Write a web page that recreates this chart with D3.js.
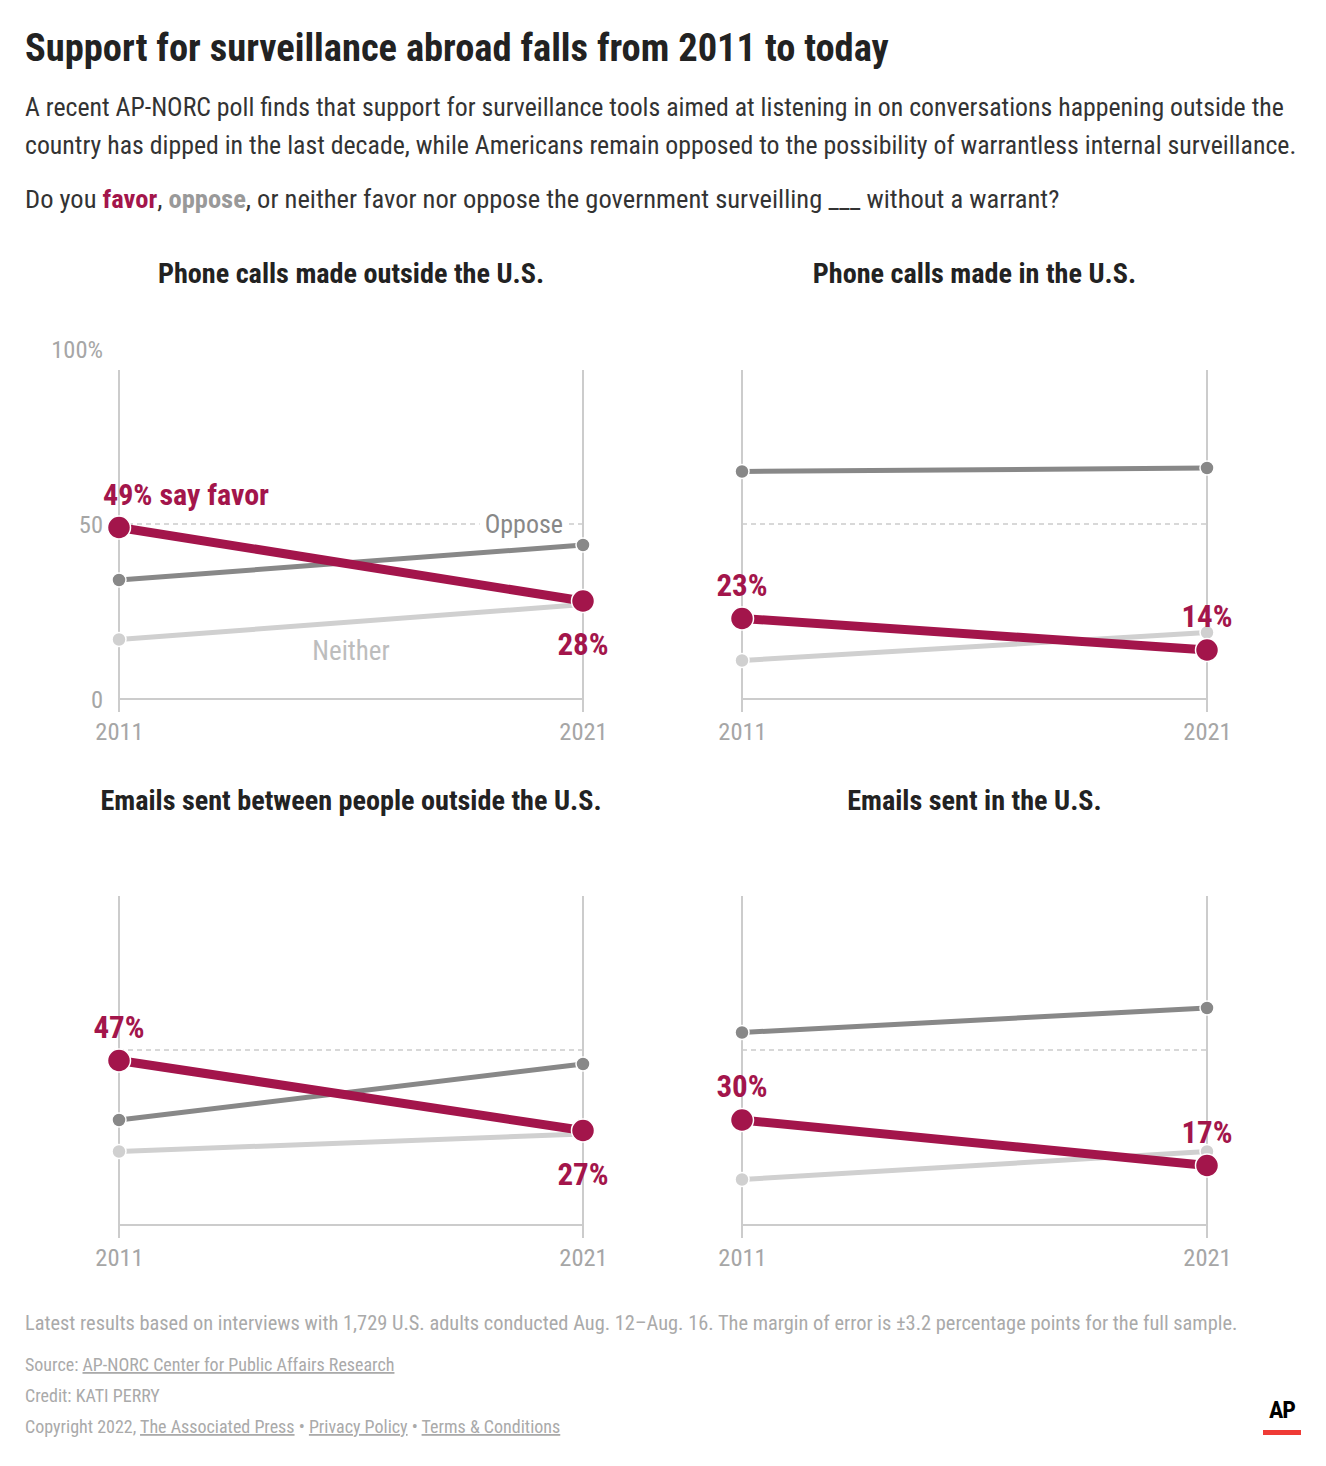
<!DOCTYPE html>
<html>
<head>
<meta charset="utf-8">
<script src="https://cdn.jsdelivr.net/npm/d3@7"></script>
<style>
  html, body { margin: 0; padding: 0; background: #fff; }
  svg { display: block; }
  text { font-family: "Liberation Sans Narrow", "Roboto Condensed", "DejaVu Sans Condensed", sans-serif; }
</style>
</head>
<body>
<svg id="chart" width="1326" height="1466"></svg>
<script>
// ---------- DATA ----------
const years = [2011, 2021];
const panelTitles = [
  "Phone calls made outside the U.S.",
  "Phone calls made in the U.S.",
  "Emails sent between people outside the U.S.",
  "Emails sent in the U.S."
];
const favor   = [[49, 28], [23, 14], [47, 27], [30, 17]];
const oppose  = [[34, 44], [65, 66], [30, 46], [55, 62]];
const neither = [[17, 27], [11, 19], [21, 26], [13, 21]];
const yTicks = [0, 50, 100];
const yTickLabels = ["0", "50", "100%"];
const favorLabelSide = [["above", "below"], ["above", "above"], ["above", "below"], ["above", "above"]];

const titleText = "Support for surveillance abroad falls from 2011 to today";
const subtitleLines = [
  "A recent AP-NORC poll finds that support for surveillance tools aimed at listening in on conversations happening outside the",
  "country has dipped in the last decade, while Americans remain opposed to the possibility of warrantless internal surveillance."
];
const noteText = "Latest results based on interviews with 1,729 U.S. adults conducted Aug. 12\u2013Aug. 16. The margin of error is \u00b13.2 percentage points for the full sample.";

// ---------- STYLE ----------
const C_FAVOR = "#a3154b", C_OPPOSE = "#888888", C_NEITHER = "#d0d0d0";
const C_AXIS = "#cccccc", C_LABEL = "#a6a6a6";

const svg = d3.select("#chart");

// Header
svg.append("text").attr("x", 25).attr("y", 61)
  .attr("font-size", 38.5).attr("font-weight", 700).attr("fill", "#222")
  .text(titleText);
subtitleLines.forEach((l, i) => {
  svg.append("text").attr("x", 25).attr("y", 116 + i * 38)
    .attr("font-size", 25.8).attr("fill", "#333").text(l);
});
const q = svg.append("text").attr("x", 25).attr("y", 208)
  .attr("font-size", 26.5).attr("fill", "#333");
q.append("tspan").text("Do you ");
q.append("tspan").attr("fill", C_FAVOR).attr("font-weight", 700).text("favor");
q.append("tspan").text(", ");
q.append("tspan").attr("fill", "#999").attr("font-weight", 700).text("oppose");
q.append("tspan").text(", or neither favor nor oppose the government surveilling ___ without a warrant?");

// Panels
const cols = [[119, 583], [742, 1207]];
const rows = [{ base: 699, top: 349, title: 283 }, { base: 1225, top: 875, title: 810 }];

panelTitles.forEach((title, p) => {
  const col = cols[p % 2], row = rows[Math.floor(p / 2)];
  const x = d3.scalePoint().domain(years).range(col);
  const y = d3.scaleLinear().domain([0, 100]).range([row.base, row.top]);
  const g = svg.append("g");

  g.append("text").attr("x", (col[0] + col[1]) / 2).attr("y", row.title)
    .attr("text-anchor", "middle").attr("font-size", 28.2).attr("font-weight", 700)
    .attr("fill", "#222").text(title);

  // vertical year gridlines
  years.forEach(yr => {
    g.append("line").attr("x1", x(yr)).attr("x2", x(yr))
      .attr("y1", y(94)).attr("y2", y(0) + 13)
      .attr("stroke", C_AXIS).attr("stroke-width", 2);
  });
  // baseline
  g.append("line").attr("x1", col[0]).attr("x2", col[1]).attr("y1", y(0)).attr("y2", y(0))
    .attr("stroke", C_AXIS).attr("stroke-width", 2);
  // 50 dashed
  g.append("line").attr("x1", col[0]).attr("x2", col[1]).attr("y1", y(50)).attr("y2", y(50))
    .attr("stroke", C_AXIS).attr("stroke-width", 1.5).attr("stroke-dasharray", "5,4");

  // x axis labels
  const xAxis = d3.axisBottom(x).tickSize(0).tickPadding(0).tickFormat(d3.format("d"));
  const xa = g.append("g").attr("transform", `translate(0,${y(0) + 41})`).call(xAxis);
  xa.select(".domain").remove();
  xa.selectAll("text").attr("font-size", 24.5).attr("fill", C_LABEL)
    .attr("dy", 0).attr("font-family", null);

  // y axis labels (first panel only)
  if (p === 0) {
    const yAxis = d3.axisLeft(y).tickValues(yTicks).tickSize(0).tickPadding(0)
      .tickFormat((d, i) => yTickLabels[i]);
    const ya = g.append("g").attr("transform", `translate(${col[0] - 16},0)`).call(yAxis);
    ya.select(".domain").remove();
    ya.selectAll("text").attr("font-size", 24.5).attr("fill", C_LABEL)
      .attr("dy", "0.35em").attr("font-family", null);
  }

  const line = d3.line().x((d, i) => x(years[i])).y(d => y(d));
  const series = [
    { vals: neither[p], color: C_NEITHER, w: 5, r: 7 },
    { vals: oppose[p], color: C_OPPOSE, w: 5, r: 7 },
    { vals: favor[p], color: C_FAVOR, w: 9, r: 11.5 }
  ];

  // Oppose / Neither labels on first panel
  if (p === 0) {
    const bg = g.append("rect").attr("fill", "#fff");
    const ot = g.append("text").attr("x", x(years[1]) - 20).attr("y", y(50) + 9)
      .attr("text-anchor", "end").attr("font-size", 26).attr("fill", C_OPPOSE).text("Oppose");
    const bb = ot.node().getBBox();
    bg.attr("x", bb.x - 5).attr("y", y(50) - 3).attr("width", bb.width + 10).attr("height", 6);
    g.append("text").attr("x", (col[0] + col[1]) / 2).attr("y", y(d3.mean(neither[p])) + 38)
      .attr("text-anchor", "middle").attr("font-size", 27).attr("fill", "#bdbdbd").text("Neither");
  }

  series.forEach(s => {
    g.append("path").datum(s.vals).attr("d", line).attr("fill", "none")
      .attr("stroke", s.color).attr("stroke-width", s.w);
    g.selectAll(null).data(s.vals).enter().append("circle")
      .attr("cx", (d, i) => x(years[i])).attr("cy", d => y(d)).attr("r", s.r)
      .attr("fill", s.color).attr("stroke", "#fff").attr("stroke-width", 1.5);
  });

  // favor value labels
  favor[p].forEach((v, i) => {
    const side = favorLabelSide[p][i];
    const first = p === 0 && i === 0;
    g.append("text")
      .attr("x", first ? x(years[i]) - 16 : x(years[i]))
      .attr("y", side === "above" ? y(v) - 23 : y(v) + 54)
      .attr("text-anchor", first ? "start" : "middle")
      .attr("font-size", first ? 30 : 31).attr("font-weight", 700).attr("fill", C_FAVOR)
      .text(first ? `${v}% say favor` : `${v}%`);
  });
});

// Footer
svg.append("text").attr("x", 25).attr("y", 1330).attr("font-size", 20.4).attr("fill", "#aaa").text(noteText);

function footerLine(yPos, parts) {
  const t = svg.append("text").attr("x", 25).attr("y", yPos).attr("font-size", 18).attr("fill", "#aaa");
  parts.forEach(pt => {
    const s = t.append("tspan").text(pt.t);
    if (pt.u) s.attr("text-decoration", "underline");
  });
}
footerLine(1371, [{ t: "Source: " }, { t: "AP-NORC Center for Public Affairs Research", u: true }]);
footerLine(1402, [{ t: "Credit: KATI PERRY" }]);
footerLine(1433, [
  { t: "Copyright 2022, " }, { t: "The Associated Press", u: true }, { t: " \u2022 " },
  { t: "Privacy Policy", u: true }, { t: " \u2022 " }, { t: "Terms & Conditions", u: true }
]);

// AP logo
svg.append("text").attr("x", 1282).attr("y", 1418).attr("text-anchor", "middle")
  .attr("font-size", 24).attr("font-weight", 700).attr("fill", "#000")
  .attr("font-family", "'Liberation Sans', Arial, sans-serif").attr("letter-spacing", -1).text("AP");
svg.append("rect").attr("x", 1263).attr("y", 1430).attr("width", 38).attr("height", 5).attr("fill", "#ef3b36");
</script>
</body>
</html>
